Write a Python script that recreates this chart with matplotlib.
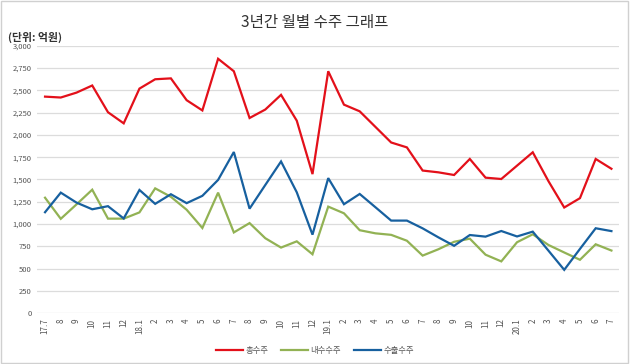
import matplotlib
matplotlib.use("Agg")
import matplotlib.pyplot as plt
from matplotlib.patches import Rectangle

plt.rcParams['font.family'] = ['Noto Sans CJK KR', 'DejaVu Sans']

# month labels 17.7 .. 20.7
months = ['17.7', '8', '9', '10', '11', '12',
          '18.1', '2', '3', '4', '5', '6', '7', '8', '9', '10', '11', '12',
          '19.1', '2', '3', '4', '5', '6', '7', '8', '9', '10', '11', '12',
          '20.1', '2', '3', '4', '5', '6', '7']

# 억원
total = [2430, 2420, 2475, 2555, 2255, 2130, 2520, 2625, 2635, 2390, 2275, 2855, 2715, 2190, 2285, 2450, 2160, 1560,
         2715, 2340, 2265, 2090, 1915, 1860, 1600, 1580, 1550, 1730, 1520, 1505, 1655, 1805, 1480, 1185, 1290, 1730, 1620]
domestic = [1295, 1058, 1220, 1385, 1060, 1060, 1130, 1400, 1305, 1160, 955, 1352, 905, 1010, 840, 735, 805, 660,
            1195, 1120, 930, 895, 878, 812, 645, 716, 800, 835, 655, 580, 795, 884, 764, 680, 598, 772, 702]
export = [1132, 1352, 1240, 1165, 1200, 1062, 1382, 1226, 1334, 1234, 1316, 1495, 1808, 1172, 1438, 1702, 1356, 880,
          1515, 1222, 1337, 1188, 1038, 1038, 951, 850, 755, 876, 858, 921, 860, 914, 700, 485, 720, 952, 920]

series = [('총수주', total, '#E3101A'),
          ('내수수주', domestic, '#92B254'),
          ('수출수주', export, '#17609F')]

fig = plt.figure(figsize=(6.3, 3.64), dpi=100)
fig.patches.append(Rectangle((0.002, 0.003), 0.995, 0.993, transform=fig.transFigure,
                             fill=False, edgecolor='#D0D0D0', linewidth=1.0))
ax = fig.add_axes([0.059, 0.140, 0.924, 0.734])

x = list(range(len(months)))
for name, vals, col in series:
    ax.plot(x, vals, color=col, linewidth=1.6, label=name, solid_joinstyle='miter')

ax.set_xlim(-0.5, len(months) - 0.5)
ax.set_ylim(0, 3000)
ax.set_yticks(range(0, 3001, 250))
ax.set_yticklabels([f'{v:,}' for v in range(0, 3001, 250)], fontsize=5.5, color='#555555')
ax.set_xticks(x)
ax.set_xticklabels(months, rotation=90, fontsize=5.8, color='#555555')
ax.tick_params(length=0, pad=4)
ax.grid(axis='y', color='#DCDCDC', linewidth=0.9)
ax.set_axisbelow(True)
for sp in ax.spines.values():
    sp.set_visible(False)

fig.text(0.5, 0.937, '3년간 월별 수주 그래프', ha='center', va='center', fontsize=11.2,
         color='#333333', fontweight='medium')
fig.text(0.012, 0.897, '(단위: 억원)', ha='left', va='center', fontsize=7.8, color='#333333', fontweight='bold')

fig.legend(loc='center', bbox_to_anchor=(0.5, 0.037), ncol=3, frameon=False, fontsize=6,
           handlelength=3.2, columnspacing=1.6, handletextpad=0.3, labelcolor='#555555')

fig.savefig('out.png', dpi=100)
